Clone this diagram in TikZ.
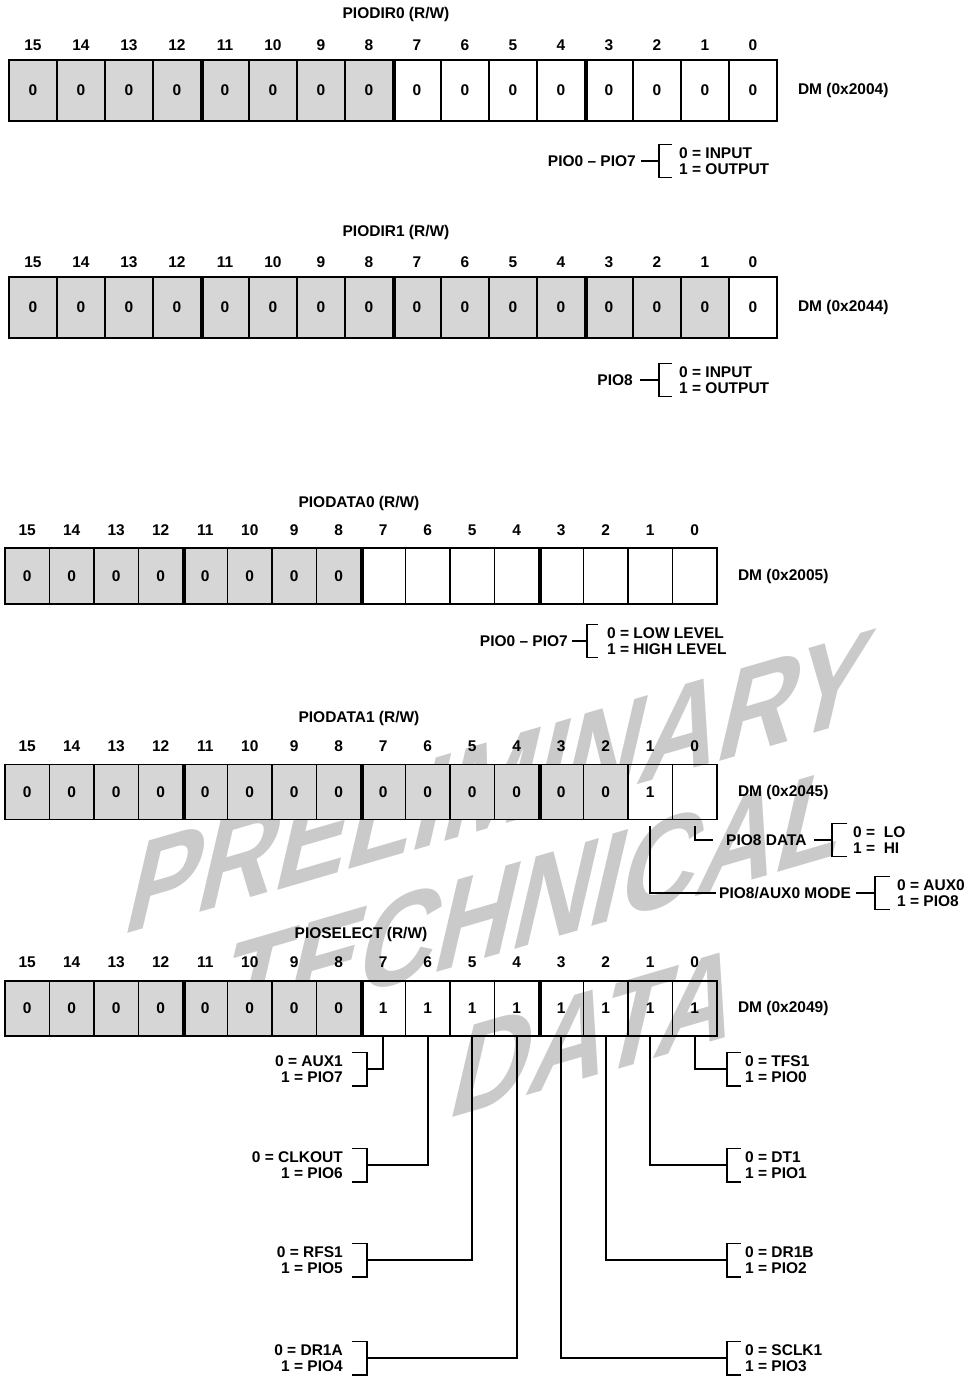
\documentclass[tikz,border=0pt]{standalone}
\usepackage{fontspec}
\setmainfont{Liberation Sans}
\usetikzlibrary{positioning,calc}
\definecolor{cellgray}{RGB}{214,214,214}
\definecolor{markgray}{RGB}{202,202,202}
\tikzset{
  txt/.style={font=\fontsize{15.5}{16}\selectfont\bfseries, inner sep=1pt},
  choice/.style={txt, align=left, inner xsep=2pt, inner ysep=3pt},
  bitcell/.style 2 args={draw, line width=1.6pt, minimum width=#1, minimum height=#2, inner sep=0pt, txt},
  nibble/.style={line width=3.4pt},
  wire/.style={line width=1.6pt},
  stamp/.style={font=\fontsize{112}{112}\selectfont\bfseries, text=markgray, inner sep=0pt,
    cm={0.96,0.28,0.28,1.2,(0,0)}, transform shape}
}

\begin{document}
\begin{tikzpicture}[x=1pt, y=-1pt]
\useasboundingbox (0,0) rectangle (970,1377);

% watermark
\begin{scope}[shift={(500,782)}]
  \node[stamp] (stamp1) at (0,0) {PRELIMINARY};
\end{scope}
\begin{scope}[shift={(536,900)}]
  \node[stamp] (stamp2) at (0,0) {TECHNICAL};
\end{scope}
\begin{scope}[shift={(598,1032)}]
  \node[stamp] (stamp3) at (0,0) {DATA};
\end{scope}

% PIODIR0
\node[txt] (dir0t) at (396,14) {PIODIR0 (R/W)};
\foreach \b in {8,...,15} \node[bitcell={48pt}{61pt}, fill=cellgray] (dir0b\b) at ({9+(15.5-\b)*48},90.5) {0};
\foreach \b in {0,...,7} \node[bitcell={48pt}{61pt}] (dir0b\b) at ({9+(15.5-\b)*48},90.5) {0};
\foreach \b in {0,...,15} \node[txt] (dir0n\b) at ({9+(15.5-\b)*48},45) {\b};
\foreach \b in {12,8,4} \draw[nibble] (dir0b\b.north east) -- (dir0b\b.south east);
\node[txt, anchor=west] (dir0dm) at ([xshift=19pt]dir0b0.east) {DM (0x2004)};
\node[txt, anchor=east] (dir0k) at (637,161) {PIO0 -- PIO7};
\node[choice, anchor=west] (dir0c) at (677,161) {0 = INPUT\\1 = OUTPUT};
\draw[wire] ([xshift=4pt]dir0k.east) -- ([xshift=-18pt]dir0c.west);
\draw[wire] ([xshift=-5pt]dir0c.north west) -- ++(-13,0) |- ([xshift=-5pt]dir0c.south west);

% PIODIR1
\node[txt] (dir1t) at (396,232) {PIODIR1 (R/W)};
\foreach \b in {1,...,15} \node[bitcell={48pt}{61pt}, fill=cellgray] (dir1b\b) at ({9+(15.5-\b)*48},307.5) {0};
\node[bitcell={48pt}{61pt}] (dir1b0) at ({9+15.5*48},307.5) {0};
\foreach \b in {0,...,15} \node[txt] (dir1n\b) at ({9+(15.5-\b)*48},262) {\b};
\foreach \b in {12,8,4} \draw[nibble] (dir1b\b.north east) -- (dir1b\b.south east);
\node[txt, anchor=west] (dir1dm) at ([xshift=19pt]dir1b0.east) {DM (0x2044)};
\node[txt, anchor=east] (dir1k) at (634,380) {PIO8};
\node[choice, anchor=west] (dir1c) at (677,380) {0 = INPUT\\1 = OUTPUT};
\draw[wire] ([xshift=6pt]dir1k.east) -- ([xshift=-18pt]dir1c.west);
\draw[wire] ([xshift=-5pt]dir1c.north west) -- ++(-13,0) |- ([xshift=-5pt]dir1c.south west);

% PIODATA0
\node[txt] (dat0t) at (359,503) {PIODATA0 (R/W)};
\foreach \b in {8,...,15} \node[bitcell={44.5pt}{56pt}, fill=cellgray] (dat0b\b) at ({5+(15.5-\b)*44.5},576) {0};
\foreach \b in {0,...,7} \node[bitcell={44.5pt}{56pt}] (dat0b\b) at ({5+(15.5-\b)*44.5},576) {};
\foreach \b in {0,...,15} \node[txt] (dat0n\b) at ({5+(15.5-\b)*44.5},530) {\b};
\foreach \b in {12,8,4} \draw[nibble] (dat0b\b.north east) -- (dat0b\b.south east);
\node[txt, anchor=west] (dat0dm) at ([xshift=19pt]dat0b0.east) {DM (0x2005)};
\node[txt, anchor=east] (dat0k) at (569,641) {PIO0 -- PIO7};
\node[choice, anchor=west] (dat0c) at (605,641) {0 = LOW LEVEL\\1 = HIGH LEVEL};
\draw[wire] ([xshift=3pt]dat0k.east) -- ([xshift=-18pt]dat0c.west);
\draw[wire] ([xshift=-7pt]dat0c.north west) -- ++(-11,0) |- ([xshift=-7pt]dat0c.south west);

% PIODATA1
\node[txt] (dat1t) at (359,718) {PIODATA1 (R/W)};
\foreach \b in {2,...,15} \node[bitcell={44.5pt}{55pt}, fill=cellgray] (dat1b\b) at ({5+(15.5-\b)*44.5},792) {0};
\node[bitcell={44.5pt}{55pt}] (dat1b1) at ({5+14.5*44.5},792) {1};
\node[bitcell={44.5pt}{55pt}] (dat1b0) at ({5+15.5*44.5},792) {};
\foreach \b in {0,...,15} \node[txt] (dat1n\b) at ({5+(15.5-\b)*44.5},746) {\b};
\foreach \b in {12,8,4} \draw[nibble] (dat1b\b.north east) -- (dat1b\b.south east);
\node[txt, anchor=west] (dat1dm) at ([xshift=19pt]dat1b0.east) {DM (0x2045)};
\node[txt, anchor=west] (dat1k0) at (725,840) {PIO8 DATA};
\node[choice, anchor=west] (dat1c0) at (851,840) {0 = \ LO\\1 = \ HI};
\draw[wire] ([yshift=-6pt]dat1b0.south) |- ([xshift=-12pt]dat1k0.west);
\draw[wire] ([xshift=6pt]dat1k0.east) -- ([xshift=-19pt]dat1c0.west);
\draw[wire] ([xshift=-4pt]dat1c0.north west) -- ++(-15,0) |- ([xshift=-4pt]dat1c0.south west);
\node[txt, anchor=west] (dat1k1) at (718,893) {PIO8/AUX0 MODE};
\node[choice, anchor=west] (dat1c1) at (895,893) {0 = AUX0\\1 = PIO8};
\draw[wire] ([yshift=-6pt]dat1b1.south) |- ([xshift=-2pt]dat1k1.west);
\draw[wire] ([xshift=4pt]dat1k1.east) -- ([xshift=-20pt]dat1c1.west);
\draw[wire] ([xshift=-5pt]dat1c1.north west) -- ++(-15,0) |- ([xshift=-5pt]dat1c1.south west);

% PIOSELECT
\node[txt] (selt) at (361,934) {PIOSELECT (R/W)};
\foreach \b in {8,...,15} \node[bitcell={44.5pt}{55pt}, fill=cellgray] (selb\b) at ({5+(15.5-\b)*44.5},1008.5) {0};
\foreach \b in {0,...,7} \node[bitcell={44.5pt}{55pt}] (selb\b) at ({5+(15.5-\b)*44.5},1008.5) {1};
\foreach \b in {0,...,15} \node[txt] (seln\b) at ({5+(15.5-\b)*44.5},962) {\b};
\foreach \b in {12,8,4} \draw[nibble] (selb\b.north east) -- (selb\b.south east);
\node[txt, anchor=west] (seldm) at ([xshift=19pt]selb0.east) {DM (0x2049)};
\foreach \b/\y/\z/\o in {7/1069/AUX1/PIO7, 6/1165/CLKOUT/PIO6, 5/1260/RFS1/PIO5, 4/1358/DR1A/PIO4} {
  \node[choice, align=right, anchor=east] (selc\b) at (345,\y) {0 = \z\\1 = \o};
  \draw[wire] (selb\b.south) |- ([xshift=22pt]selc\b.east);
  \draw[wire] ([xshift=7pt]selc\b.north east) -- ++(15,0) |- ([xshift=7pt]selc\b.south east);
}
\foreach \b/\y/\z/\o in {0/1069/TFS1/PIO0, 1/1165/DT1/PIO1, 2/1260/DR1B/PIO2, 3/1358/SCLK1/PIO3} {
  \node[choice, anchor=west] (selc\b) at (743,\y) {0 = \z\\1 = \o};
  \draw[wire] (selb\b.south) |- ([xshift=-16pt]selc\b.west);
  \draw[wire] ([xshift=-2pt]selc\b.north west) -- ++(-14,0) |- ([xshift=-2pt]selc\b.south west);
}
\end{tikzpicture}
\end{document}
